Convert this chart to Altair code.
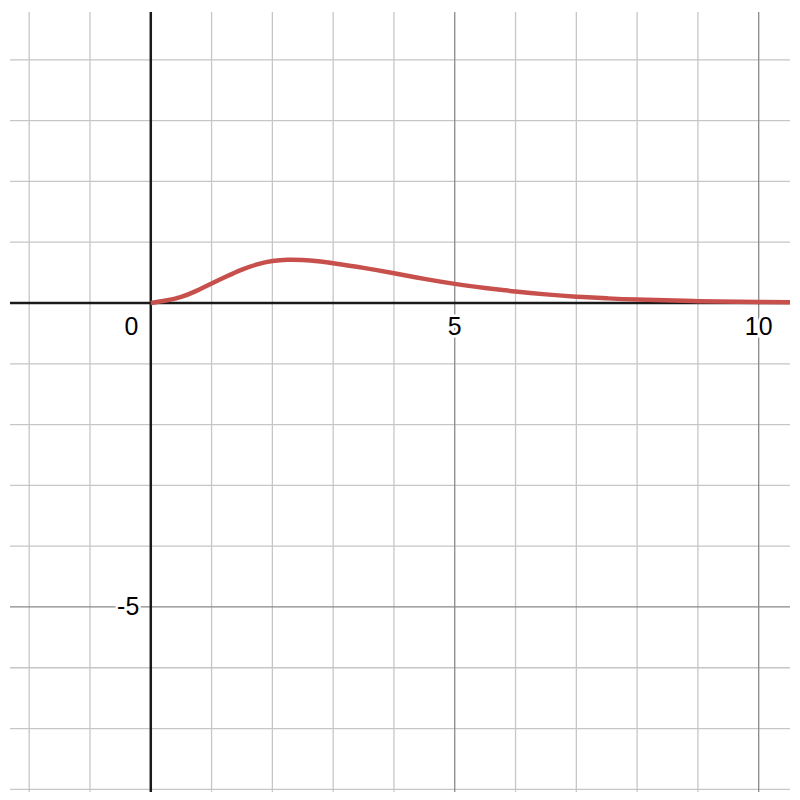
import altair as alt
import pandas as pd

# curve samples
xs = [0, 0.25, 0.5, 0.75, 1, 1.25, 1.5, 1.75, 2, 2.25, 2.5, 2.75, 3, 3.5, 4, 4.5,
      5, 5.5, 6, 6.5, 7, 7.5, 8, 9, 10, 10.6]
ys = [0, 0.04, 0.10, 0.2, 0.32, 0.44, 0.55, 0.635, 0.69, 0.712, 0.708, 0.688,
      0.655, 0.578, 0.49, 0.397, 0.315, 0.248, 0.19, 0.142, 0.104, 0.077, 0.056,
      0.03, 0.016, 0.011]

minor_x = [-2, -1, 1, 2, 3, 4, 6, 7, 8, 9]
major_x = [5, 10]
minor_y = [-8, -7, -6, -4, -3, -2, -1, 1, 2, 3, 4]
major_y = [-5]

xlab_vals = [0, 5, 10]
xlab_text = ["0", "5", "10"]
xlab_xpos = [-0.32, 5, 10]
ylab_vals = [-5]
ylab_text = ["-5"]

X_DOM = [-2.316, 10.515]
Y_DOM = [-8.044, 4.787]

xs_scale = alt.Scale(domain=X_DOM, nice=False, zero=False)
ys_scale = alt.Scale(domain=Y_DOM, nice=False, zero=False)

curve = pd.DataFrame({"x": xs, "y": ys})

vminor = alt.Chart(pd.DataFrame({"x": minor_x})).mark_rule(color="#c6c6c6", strokeWidth=1.3).encode(
    x=alt.X("x:Q", scale=xs_scale, axis=None))
hminor = alt.Chart(pd.DataFrame({"y": minor_y})).mark_rule(color="#c6c6c6", strokeWidth=1.3).encode(
    y=alt.Y("y:Q", scale=ys_scale, axis=None))
vmajor = alt.Chart(pd.DataFrame({"x": major_x})).mark_rule(color="#888888", strokeWidth=1.3).encode(
    x=alt.X("x:Q", scale=xs_scale, axis=None))
hmajor = alt.Chart(pd.DataFrame({"y": major_y})).mark_rule(color="#888888", strokeWidth=1.3).encode(
    y=alt.Y("y:Q", scale=ys_scale, axis=None))
vaxis = alt.Chart(pd.DataFrame({"x": [0]})).mark_rule(color="#1a1a1a", strokeWidth=2.5).encode(
    x=alt.X("x:Q", scale=xs_scale, axis=None))
haxis = alt.Chart(pd.DataFrame({"y": [0]})).mark_rule(color="#1a1a1a", strokeWidth=2.5).encode(
    y=alt.Y("y:Q", scale=ys_scale, axis=None))

line = alt.Chart(curve).mark_line(color="#c8504c", strokeWidth=4.5, interpolate="natural", clip=True).encode(
    x=alt.X("x:Q", scale=xs_scale, axis=None),
    y=alt.Y("y:Q", scale=ys_scale, axis=None))

xlab_df = pd.DataFrame({"x": xlab_xpos, "y": [-0.4] * len(xlab_vals), "t": xlab_text})
ylab_df = pd.DataFrame({"x": [-0.19] * len(ylab_vals), "y": ylab_vals, "t": ylab_text})

font = "Liberation Sans"
def labels(df, align, halo):
    kw = dict(font=font, fontSize=25, align=align, baseline="middle", color="black")
    if halo:
        kw.update(stroke="white", strokeWidth=5, color="white")
    return alt.Chart(df).mark_text(**kw).encode(
        x=alt.X("x:Q", scale=xs_scale, axis=None),
        y=alt.Y("y:Q", scale=ys_scale, axis=None),
        text="t:N")

chart = alt.layer(
    vminor, hminor, vmajor, hmajor, vaxis, haxis, line,
    labels(xlab_df, "center", True), labels(xlab_df, "center", False),
    labels(ylab_df, "right", True), labels(ylab_df, "right", False),
).properties(width=784, height=784, padding=0, background="white").configure_view(stroke=None)

chart.save("out.html", embed_options={"renderer": "svg", "actions": False})
